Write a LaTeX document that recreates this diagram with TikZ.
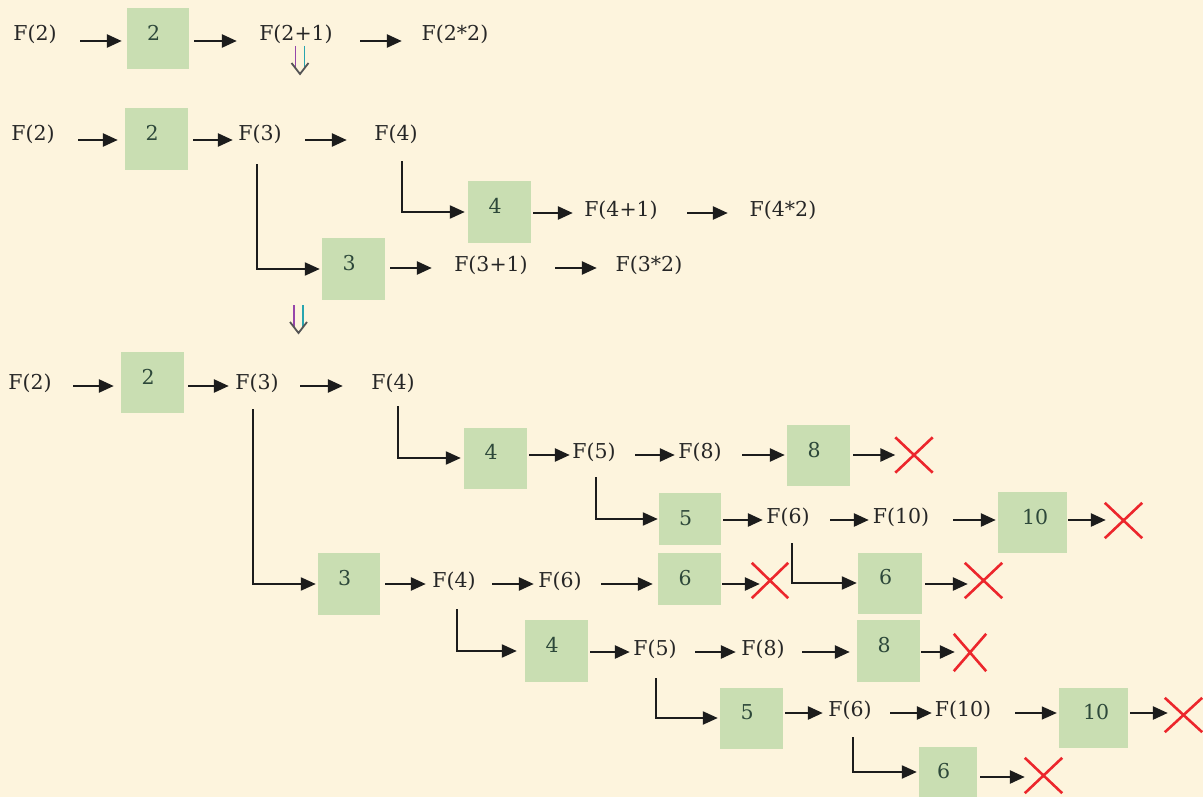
\documentclass[tikz,border=0pt]{standalone}
\usepackage{fontspec}
\setmainfont{DejaVu Serif}
\usetikzlibrary{arrows.meta}
\definecolor{bg}{RGB}{253,244,221}
\definecolor{boxg}{RGB}{201,222,178}
\definecolor{txt}{RGB}{38,38,38}
\definecolor{numc}{RGB}{45,72,58}
\definecolor{xred}{RGB}{236,38,44}
\definecolor{lnc}{RGB}{28,28,28}
\definecolor{dpur}{RGB}{150,70,170}
\definecolor{dtea}{RGB}{40,165,175}
\tikzset{
  ft/.style={inner sep=0pt, text=txt, font=\fontsize{20.5}{24}\selectfont, minimum width=44pt},
  ftw/.style={ft, minimum width=61pt},
  ftx/.style={ft, minimum width=76pt},
  bx/.style={fill=boxg, draw=none, inner sep=0pt, minimum width=63pt, minimum height=61pt},
  num/.style={anchor=west, inner sep=0pt, text=numc, font=\fontsize{20.5}{24}\selectfont},
  arr/.style={line width=2.6pt, draw=lnc, -{Triangle[length=15pt,width=13pt]}},
  thinarr/.style={line width=1.4pt, draw=lnc, -{Triangle[length=15pt,width=13pt]}},
  br/.style={line width=2.2pt, draw=lnc, -{Triangle[length=15pt,width=13pt]}},
  xm/.style={inner sep=0pt, minimum width=37pt, minimum height=35pt},
  xl/.style={line width=2.6pt, draw=xred},
  dbl/.style={line width=1.8pt},
}
\newcommand\xcross[1]{\draw[xl] (#1.north west) -- (#1.south east) (#1.north east) -- (#1.south west);}
\newcommand\bnum[2]{\node[num] at ([shift={(-11,25)}]#1.north) {#2};}
\newcommand\arw[6][arr]{\draw[#1, shorten <=#5pt, shorten >=#6pt] (#2.east |- #4) -- (#3.west |- #4);}
\newcommand\brn[5]{\draw[br, shorten >=#5pt] ([shift={#3}]#1.south) |- (#2.west);}
\newcommand\dnar[1]{%
  \draw[dbl, draw=dpur] ([shift={(-4.5,-14)}]#1) -- ([shift={(-4.5,8)}]#1);
  \draw[dbl, draw=dtea] ([shift={(4.5,-14)}]#1) -- ([shift={(4.5,8)}]#1);
  \draw[dbl, draw=lnc!75] ([shift={(-8.5,3)}]#1) -- ([shift={(0,14)}]#1) -- ([shift={(8.5,3)}]#1);
}
\begin{document}
\begin{tikzpicture}[x=1pt,y=-1pt]
\useasboundingbox (0,0) rectangle (1203,797);
\fill[bg] (0,0) rectangle (1203,797);
% row coordinates
\coordinate (rA) at (0,41);
\coordinate (rB) at (0,140);
\coordinate (rB2) at (0,213);
\coordinate (rB3) at (0,268);
\coordinate (rC) at (0,386);
\coordinate (rD) at (0,455);
\coordinate (rE) at (0,520);
\coordinate (rF) at (0,584);
\coordinate (rG) at (0,652);
\coordinate (rH) at (0,713);
\coordinate (rI) at (0,777);
% ---------- row A
\node[ft] (a1) at (35,34) {F(2)};
\node[bx, minimum width=62pt] (a2) at (158,38.5) {};
\node[ftx] (a3) at (296,34) {F(2+1)};
\node[ftx] (a4) at (455,34) {F(2*2)};
\bnum{a2}{2}
\arw{a1}{a2}{rA}{23}{5}
\arw{a2}{a3}{rA}{5}{21}
\arw{a3}{a4}{rA}{26}{15}
\coordinate (dA) at (300,60);
\dnar{dA}
% ---------- row B
\node[ft] (b1) at (33,134) {F(2)};
\node[bx, minimum height=62pt] (b2) at (156.5,139) {};
\node[ft] (b3) at (260,134) {F(3)};
\node[ft] (b4) at (396,134) {F(4)};
\node[bx, minimum height=62pt] (b5) at (353.5,269) {};
\node[bx] (b6) at (499.5,212) {};
\node[ftx] (b7) at (491,265) {F(3+1)};
\node[ftx] (b8) at (649,265) {F(3*2)};
\node[ftx] (b9) at (621,210) {F(4+1)};
\node[ftx] (b10) at (783,210) {F(4*2)};
\bnum{b2}{2}
\bnum{b5}{3}
\bnum{b6}{4}
\arw{b1}{b2}{rB}{23}{7}
\arw{b2}{b3}{rB}{5}{5}
\arw{b3}{b4}{rB}{23}{27}
\brn{b3}{b5}{(-3,20.5)}{}{2}
\brn{b4}{b6}{(6,17.5)}{}{3}
\arw{b5}{b7}{rB3}{5}{21}
\arw{b7}{b8}{rB3}{26}{14}
\arw{b6}{b9}{rB2}{2}{10}
\arw{b9}{b10}{rB2}{28}{17}
\coordinate (dB) at (298.5,319);
\dnar{dB}
% ---------- row C
\node[ft] (c1) at (30,383) {F(2)};
\node[bx] (c2) at (152.5,382.5) {};
\node[ft] (c3) at (257,383) {F(3)};
\node[ft] (c4) at (393,383) {F(4)};
\bnum{c2}{2}
\arw{c1}{c2}{rC}{21}{7}
\arw{c2}{c3}{rC}{4}{6}
\arw{c3}{c4}{rC}{21}{28}
% ---------- row D
\node[bx] (d1) at (495.5,458) {};
\node[ft] (d2) at (594,452) {F(5)};
\node[ft] (d3) at (700,452) {F(8)};
\node[bx] (d4) at (818.5,455.5) {};
\node[xm] (d5) at (914,455) {};
\bnum{d1}{4}
\bnum{d4}{8}
\xcross{d5}
\brn{c4}{d1}{(5,13.5)}{}{3}
\arw{d1}{d2}{rD}{2}{2}
\arw{d2}{d3}{rD}{19}{3}
\arw{d3}{d4}{rD}{20}{2}
\arw{d4}{d5}{rD}{3}{0}
% ---------- row E
\node[bx, minimum width=62pt, minimum height=52pt] (e1) at (690,519) {};
\node[ft] (e2) at (788,517) {F(6)};
\node[ftw] (e3) at (901,517) {F(10)};
\node[bx, minimum width=69pt] (e4) at (1032.5,522.5) {};
\node[xm] (e5) at (1123.5,520.5) {};
\bnum{e1}{5}
\node[num] at ([shift={(-10.5,25)}]e4.north) {10};
\xcross{e5}
\brn{d2}{e1}{(2,15.5)}{}{1}
\arw{e1}{e2}{rE}{2}{3}
\arw{e2}{e3}{rE}{20}{1.5}
\arw{e3}{e4}{rE}{21.5}{2}
\arw{e4}{e5}{rE}{1}{-1}
% ---------- row F
\node[bx, minimum width=62pt, minimum height=62pt] (f1) at (349,584) {};
\node[ft] (f2) at (454,581) {F(4)};
\node[ft] (f3) at (560,581) {F(6)};
\node[bx, minimum height=52pt] (f4) at (689.5,579) {};
\node[bx, minimum width=64pt] (f5) at (890,583) {};
\node[xm, minimum width=36pt] (f6) at (770,580.5) {};
\node[xm] (f7) at (983.5,580.5) {};
\bnum{f1}{3}
\bnum{f4}{6}
\bnum{f5}{6}
\brn{c3}{f1}{(-4,16.5)}{}{2}
\brn{e2}{f5}{(4,16.5)}{}{1}
\xcross{f6}
\xcross{f7}
\arw{f1}{f2}{rF}{5}{6}
\arw{f2}{f3}{rF}{16}{4}
\arw{f3}{f4}{rF}{19}{5}
\arw{f4}{f6}{rF}{1}{-8}
\arw{f5}{f7}{rF}{3}{-3}
% ---------- row G
\node[bx, minimum height=62pt] (g1) at (556.5,651) {};
\node[ft] (g2) at (655,649) {F(5)};
\node[ft] (g3) at (763,649) {F(8)};
\node[bx, minimum height=62pt] (g4) at (888.5,651) {};
\node[xm, minimum width=32pt, minimum height=37pt] (g5) at (970,652.5) {};
\bnum{g1}{4}
\bnum{g4}{8}
\xcross{g5}
\brn{f2}{g1}{(3,18.5)}{}{8}
\arw{g1}{g2}{rG}{2}{3}
\arw{g2}{g3}{rG}{18}{5}
\arw{g3}{g4}{rG}{17}{7}
\arw{g4}{g5}{rG}{1}{-1}
% ---------- row H
\node[bx] (h1) at (751.5,718) {};
\node[ft] (h2) at (850,710) {F(6)};
\node[ftw] (h3) at (963,710) {F(10)};
\node[bx, minimum width=69pt, minimum height=60pt] (h4) at (1093.5,717.5) {};
\node[xm, minimum height=34pt] (h5) at (1183.5,715) {};
\bnum{h1}{5}
\node[num] at ([shift={(-10.5,25)}]h4.north) {10};
\xcross{h5}
\brn{g2}{h1}{(1,19.5)}{}{2}
\arw{h1}{h2}{rH}{2}{5}
\arw{h2}{h3}{rH}{18}{0.5}
\arw[thinarr]{h3}{h4}{rH}{21.5}{2}
\arw{h4}{h5}{rH}{2}{-3}
% ---------- row I
\node[bx, minimum width=58pt, minimum height=51pt] (i1) at (948,772) {};
\node[xm] (i2) at (1043.5,775.5) {};
\bnum{i1}{6}
\xcross{i2}
\brn{h2}{i1}{(3,17.5)}{}{2}
\arw{i1}{i2}{rI}{3}{0}
\end{tikzpicture}
\end{document}
